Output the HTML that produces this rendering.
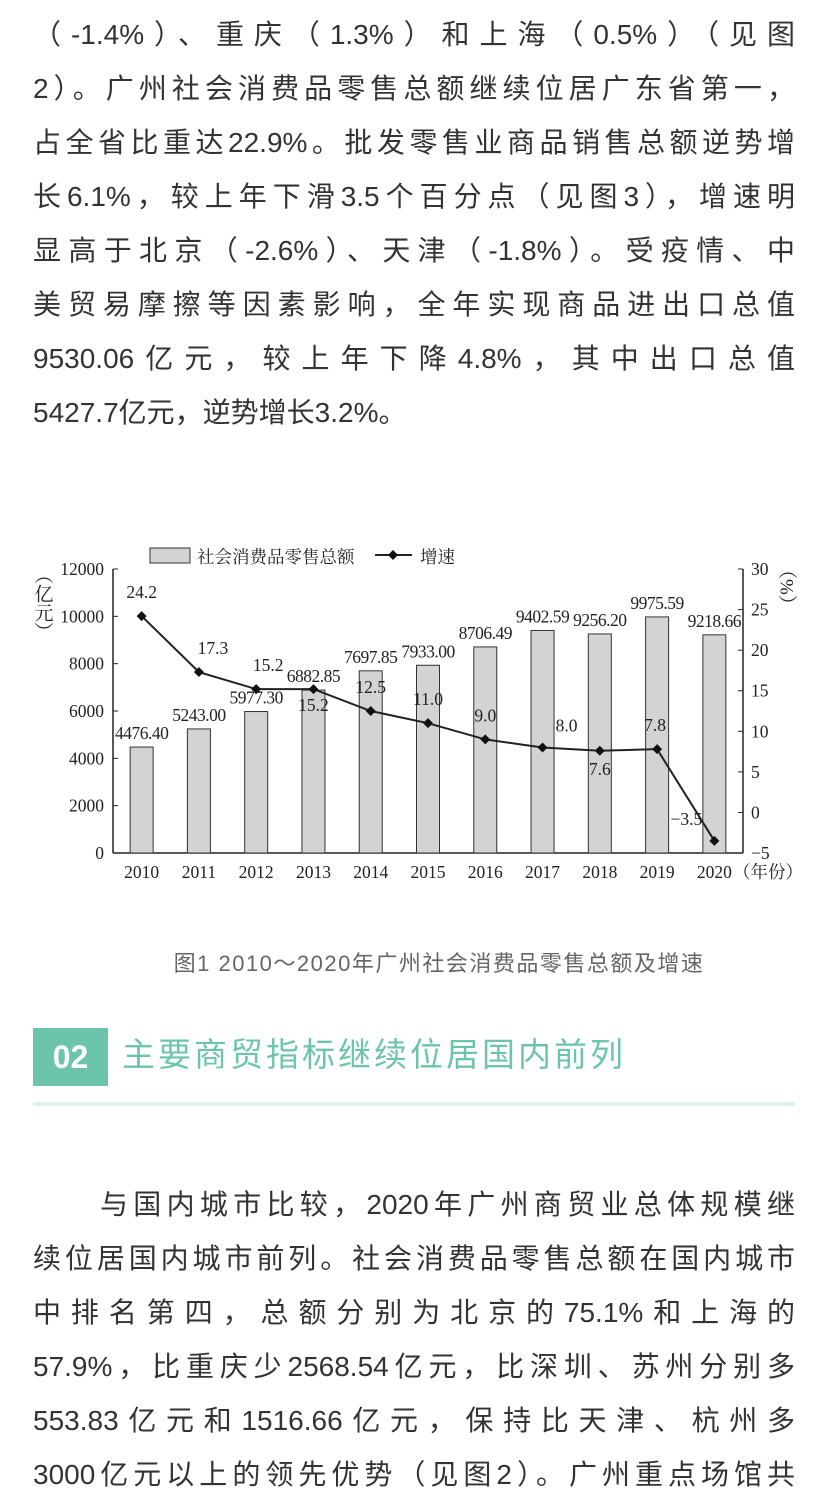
<!DOCTYPE html>
<html><head><meta charset="utf-8">
<style>
html,body{margin:0;padding:0;background:#fff;}
body{width:828px;height:1496px;position:relative;overflow:hidden;font-family:"Liberation Sans","Noto Sans CJK SC",sans-serif;color:#333;}
.ln{position:absolute;left:33px;width:762px;font-size:28px;height:40px;line-height:40px;text-align:justify;text-align-last:justify;white-space:nowrap;}
.ln.last{text-align-last:left;}
#cap{position:absolute;left:0;width:878px;top:946px;text-align:center;font-size:22px;color:#666;letter-spacing:1.5px;}
#badge{position:absolute;left:33px;top:1028px;width:75px;height:58px;background:#6cc5aa;color:#fff;font-weight:bold;font-size:32px;line-height:58px;text-align:center;}
#title{position:absolute;left:122px;top:1032px;font-size:33px;color:#6cc5aa;letter-spacing:3px;line-height:46px;}
#divider{position:absolute;left:33px;top:1102px;width:762px;height:4px;background:#dcefe8;}
svg text{font-family:"Liberation Serif","Noto Serif CJK SC",serif;fill:#222;}
</style></head><body>
<div>
<div class="ln" style="top:15px">（-1.4%）、重庆（1.3%）和上海（0.5%）（见图</div>
<div class="ln" style="top:69px">2）。广州社会消费品零售总额继续位居广东省第一，</div>
<div class="ln" style="top:123px">占全省比重达22.9%。批发零售业商品销售总额逆势增</div>
<div class="ln" style="top:177px">长6.1%，较上年下滑3.5个百分点（见图3），增速明</div>
<div class="ln" style="top:231px">显高于北京（-2.6%）、天津（-1.8%）。受疫情、中</div>
<div class="ln" style="top:285px">美贸易摩擦等因素影响，全年实现商品进出口总值</div>
<div class="ln" style="top:339px">9530.06亿元，较上年下降4.8%，其中出口总值</div>
<div class="ln last" style="top:393px">5427.7亿元，逆势增长3.2%。</div>
</div>

<svg id="chart" style="position:absolute;left:0;top:530px" width="828" height="360"></svg>

<div id="cap">图1 2010～2020年广州社会消费品零售总额及增速</div>
<div id="badge">02</div>
<div id="title">主要商贸指标继续位居国内前列</div>
<div id="divider"></div>

<div>
<div class="ln" style="top:1185px;left:100px;width:695px">与国内城市比较，2020年广州商贸业总体规模继</div>
<div class="ln" style="top:1239px">续位居国内城市前列。社会消费品零售总额在国内城市</div>
<div class="ln" style="top:1293px">中排名第四，总额分别为北京的75.1%和上海的</div>
<div class="ln" style="top:1347px">57.9%，比重庆少2568.54亿元，比深圳、苏州分别多</div>
<div class="ln" style="top:1401px">553.83亿元和1516.66亿元，保持比天津、杭州多</div>
<div class="ln" style="top:1455px">3000亿元以上的领先优势（见图2）。广州重点场馆共</div>
</div>

<script>
const years = ["2010","2011","2012","2013","2014","2015","2016","2017","2018","2019","2020"];
const sales = [4476.40,5243.00,5977.30,6882.85,7697.85,7933.00,8706.49,9402.59,9256.20,9975.59,9218.66];
const growth = [24.2,17.3,15.2,15.2,12.5,11.0,9.0,8.0,7.6,7.8,-3.5];
const leftTicks = [0,2000,4000,6000,8000,10000,12000];
const rightTicks = [-5,0,5,10,15,20,25,30];
const growthLabelDy = [-18,-18,-18,18,-18,-18,-18,-16,20,-18,-16];
const growthLabelDx = [0,14,12,0,0,0,0,24,0,-2,-28];

const svg = document.getElementById('chart');
const NS = 'http://www.w3.org/2000/svg';
const OY = 530;
const X0 = 113, X1 = 743, Ytop = 569-OY, Ybot = 853-OY;
const step = (X1 - X0) / years.length;
const xAt = i => X0 + step * (i + 0.5);
const yL = v => Ybot - (v / 12000) * (Ybot - Ytop);
const yR = v => Ybot - ((v + 5) / 35) * (Ybot - Ytop);
function mk(tag, attrs, text){const e=document.createElementNS(NS,tag);for(const k in attrs)e.setAttribute(k,attrs[k]);if(text!=null)e.textContent=text;svg.appendChild(e);return e;}

let e = mk('line',{x1:X0,y1:Ytop,x2:X0,y2:Ybot,stroke:'#222','stroke-width':1.5});


e = mk('line',{x1:X1,y1:Ytop,x2:X1,y2:Ybot,stroke:'#222','stroke-width':1.5});


e = mk('line',{x1:X0,y1:Ybot,x2:X1,y2:Ybot,stroke:'#222','stroke-width':1.5});



leftTicks.forEach(v=>{
  mk('line',{x1:X0,y1:yL(v),x2:X0+5,y2:yL(v),stroke:'#222'});
  const t = mk('text',{x:X0-9,y:yL(v)+6,'text-anchor':'end','font-size':17.5},v);
  
  
});
rightTicks.forEach(v=>{
  mk('line',{x1:X1-5,y1:yR(v),x2:X1,y2:yR(v),stroke:'#222'});
  const t = mk('text',{x:X1+8,y:yR(v)+6,'font-size':17.5},v<0?'−'+(-v):v);
  
  
});

sales.forEach((v,i)=>{
  const b = mk('rect',{x:xAt(i)-11.5,y:yL(v),width:23,height:Ybot-yL(v),fill:'#d3d3d3',stroke:'#333','stroke-width':1});
  
  
  const t = mk('text',{x:xAt(i),y:yL(v)-8,'text-anchor':'middle','font-size':17.5,'letter-spacing':'-0.5'},v.toFixed(2));
  
  
  const xl = mk('text',{x:xAt(i),y:Ybot+25,'text-anchor':'middle','font-size':17.5},years[i]);
  
  
});

const pts = growth.map((v,i)=>xAt(i)+','+yR(v)).join(' ');
e = mk('polyline',{points:pts,fill:'none',stroke:'#222','stroke-width':2});


growth.forEach((v,i)=>{
  const x=xAt(i),y=yR(v);
  const d = mk('polygon',{points:`${x},${y-5} ${x+5},${y} ${x},${y+5} ${x-5},${y}`,fill:'#111'});
  
  
  const t = mk('text',{x:x+growthLabelDx[i],y:y+growthLabelDy[i]+(growthLabelDy[i]>0?4:0),'text-anchor':'middle','font-size':17.5},v<0?'−'+(-v).toFixed(1):v.toFixed(1));
  
  
});

e = mk('rect',{x:150,y:548-OY,width:40,height:15,fill:'#d3d3d3',stroke:'#333'});


e = mk('text',{x:197,y:563-OY,'font-size':17.5},'社会消费品零售总额');


e = mk('line',{x1:375,y1:555-OY,x2:412,y2:555-OY,stroke:'#222','stroke-width':2});


mk('polygon',{points:`393,${550-OY} 398,${555-OY} 393,${560-OY} 388,${555-OY}`,fill:'#111'});
e = mk('text',{x:420,y:563-OY,'font-size':17.5},'增速');



e = mk('text',{x:42,y:565-OY,'font-size':19,'writing-mode':'tb','text-anchor':'start'},'（亿元）');


e = mk('text',{x:786,y:560-OY,'font-size':19,'writing-mode':'tb','text-anchor':'start'},'（%）');


e = mk('text',{x:733,y:Ybot+25,'font-size':17.5},'（年份）');


</script>
</body></html>
